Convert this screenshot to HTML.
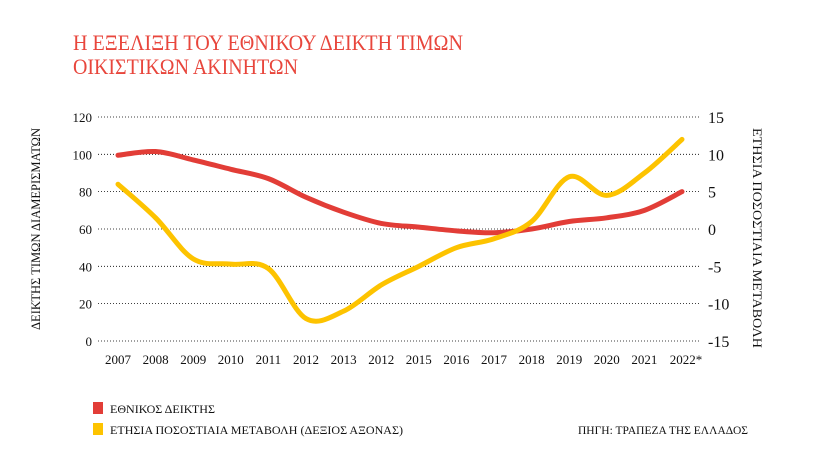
<!DOCTYPE html>
<html><head><meta charset="utf-8"><style>
body{margin:0;background:#fff;}
svg{display:block;font-family:"Liberation Serif","DejaVu Serif",serif;}
</style></head><body>
<svg id="s" width="832" height="472" viewBox="0 0 832 472">
<text x="73" y="50" font-size="22" fill="#e8463c" textLength="390" lengthAdjust="spacingAndGlyphs">Η ΕΞΕΛΙΞΗ ΤΟΥ ΕΘΝΙΚΟΥ ΔΕΙΚΤΗ ΤΙΜΩΝ</text>
<text x="73" y="74" font-size="22" fill="#e8463c" textLength="225" lengthAdjust="spacingAndGlyphs">ΟΙΚΙΣΤΙΚΩΝ ΑΚΙΝΗΤΩΝ</text>
<g id="grid" stroke="#000" stroke-width="0.8" stroke-dasharray="1,2"></g>
<g id="lbl" font-size="14" fill="#111"></g>
<text transform="translate(40,229) rotate(-90)" font-size="13" text-anchor="middle" fill="#111" textLength="202" lengthAdjust="spacingAndGlyphs">ΔΕΙΚΤΗΣ ΤΙΜΩΝ ΔΙΑΜΕΡΙΣΜΑΤΩΝ</text>
<text transform="translate(753,238) rotate(90)" font-size="13" text-anchor="middle" fill="#111" textLength="220" lengthAdjust="spacingAndGlyphs">ΕΤΗΣΙΑ ΠΟΣΟΣΤΙΑΙΑ ΜΕΤΑΒΟΛΗ</text>
<path id="red" fill="none" stroke="#e23d37" stroke-width="5" stroke-linecap="round"/>
<path id="yel" fill="none" stroke="#fdc300" stroke-width="5" stroke-linecap="round"/>
<rect x="93" y="402" width="10" height="12" fill="#e23d37"/>
<rect x="93" y="423" width="10" height="12" fill="#fdc300"/>
<g font-size="12" fill="#111">
<text x="110" y="413" textLength="105" lengthAdjust="spacingAndGlyphs">ΕΘΝΙΚΟΣ ΔΕΙΚΤΗΣ</text>
<text x="110" y="434" textLength="293" lengthAdjust="spacingAndGlyphs">ΕΤΗΣΙΑ ΠΟΣΟΣΤΙΑΙΑ ΜΕΤΑΒΟΛΗ (ΔΕΞΙΟΣ ΑΞΟΝΑΣ)</text>
<text x="578" y="434" textLength="170" lengthAdjust="spacingAndGlyphs">ΠΗΓΗ: ΤΡΑΠΕΖΑ ΤΗΣ ΕΛΛΑΔΟΣ</text>
</g>
</svg>
<script>
const NS="http://www.w3.org/2000/svg";
const g=document.getElementById('grid'),l=document.getElementById('lbl');
function t(x,y,s,a,fs){const e=document.createElementNS(NS,'text');e.setAttribute('x',x);e.setAttribute('y',y);e.setAttribute('text-anchor',a);if(fs)e.setAttribute('font-size',fs);e.textContent=s;l.appendChild(e);}
for(let i=0;i<=6;i++){const y=117+i*37.33;const ln=document.createElementNS(NS,'line');ln.setAttribute('x1',98);ln.setAttribute('x2',700);ln.setAttribute('y1',y);ln.setAttribute('y2',y);g.appendChild(ln);
t(92,y+5,String(120-20*i),'end',13);t(708,y+6,String(15-5*i),'start',16);}
const yrs=['2007','2008','2009','2010','2011','2012','2013','2012','2015','2016','2017','2018','2019','2020','2021','2022*'];
const X=i=>118+i*37.6;
yrs.forEach((s,i)=>t(X(i)+(i==15?4:0),364,s,'middle',13));
const R=[99.5,101.5,97,92,87,77,69,63,61,59,58,60,64,66,70,80];
const Yv=[6,1.5,-4,-4.7,-5.3,-12,-11,-7.5,-5,-2.5,-1.3,1,7,4.5,7.5,12];
function path(p){let d=`M${p[0][0]},${p[0][1]}`;for(let i=0;i<p.length-1;i++){const a=p[Math.max(i-1,0)],b=p[i],c=p[i+1],e=p[Math.min(i+2,p.length-1)];
d+=` C${b[0]+(c[0]-a[0])/6},${b[1]+(c[1]-a[1])/6} ${c[0]-(e[0]-b[0])/6},${c[1]-(e[1]-b[1])/6} ${c[0]},${c[1]}`;}return d;}
document.getElementById('red').setAttribute('d',path(R.map((v,i)=>[X(i),341-v*1.8667])));
document.getElementById('yel').setAttribute('d',path(Yv.map((v,i)=>[X(i),229-v*7.4667])));
</script>
</body></html>
